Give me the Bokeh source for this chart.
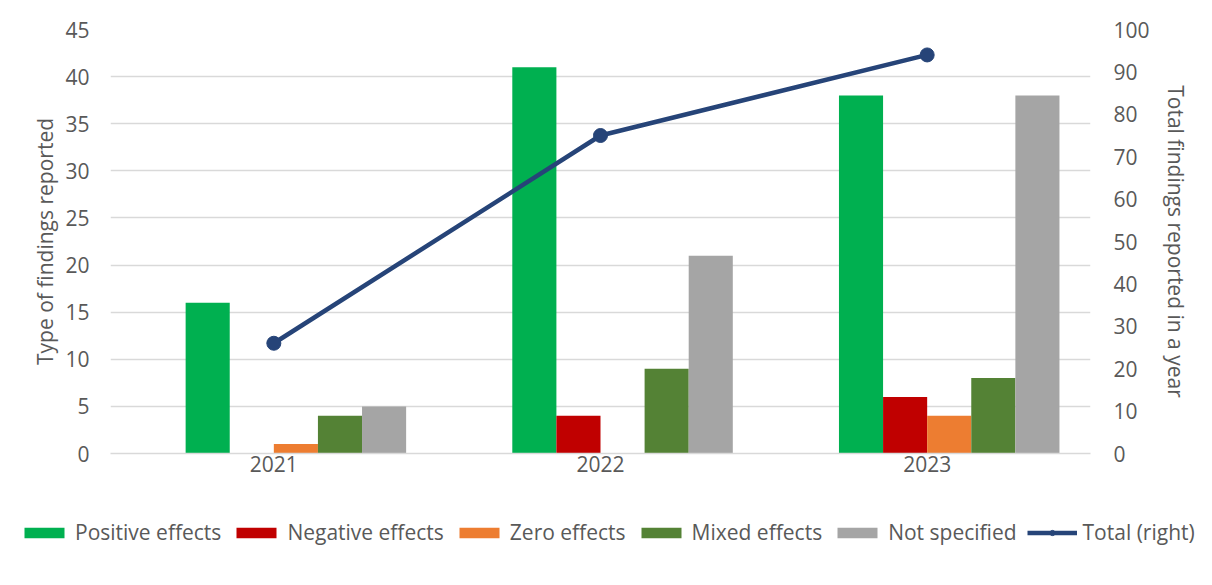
from bokeh.plotting import figure
from bokeh.models import (Range1d, LinearAxis, FixedTicker, Legend, LegendItem,
                          FactorRange, ColumnDataSource)
from bokeh.transform import dodge
from bokeh.embed import file_html
from bokeh.resources import INLINE

years = ["2021", "2022", "2023"]
positive = [16, 41, 38]
negative = [0, 4, 6]
zero = [1, 0, 4]
mixed = [4, 9, 8]
not_specified = [5, 21, 38]
total = [26, 75, 94]

left_ticks = [0, 5, 10, 15, 20, 25, 30, 35, 40, 45]
right_ticks = [0, 10, 20, 30, 40, 50, 60, 70, 80, 90, 100]

FONT = "Open Sans"
TXT = "#595959"
FS = "21px"
LINE_COLOR = "#264478"

src = ColumnDataSource(dict(year=years, positive=positive, negative=negative, zero=zero,
                            mixed=mixed, not_specified=not_specified, total=total))

p = figure(x_range=FactorRange(*years), y_range=Range1d(0, 45),
           width=1196, height=495, output_backend="svg", toolbar_location=None,
           min_border_left=110, min_border_right=106, min_border_top=29, min_border_bottom=42)
p.extra_y_ranges = {"right": Range1d(0, 100)}
p.outline_line_color = None
p.background_fill_color = "white"
p.border_fill_color = "white"

w = 0.135
series = [("positive", "Positive effects", "#00B050", -1.5),
          ("negative", "Negative effects", "#C00000", -0.5),
          ("zero", "Zero effects", "#ED7D31", 0.5),
          ("mixed", "Mixed effects", "#548235", 1.5),
          ("not_specified", "Not specified", "#A5A5A5", 2.5)]

for key, label, color, off in series:
    p.vbar(x=dodge("year", off * w, range=p.x_range), top=key, width=w, source=src,
           fill_color=color, line_color=None)

p.line(x="year", y="total", source=src, y_range_name="right", line_color=LINE_COLOR,
       line_width=4.5)
p.scatter(x="year", y="total", source=src, y_range_name="right", size=14,
          fill_color=LINE_COLOR, line_color=LINE_COLOR)


def style_axis(ax):
    ax.axis_line_color = None
    ax.major_tick_line_color = None
    ax.minor_tick_line_color = None
    ax.major_tick_out = 0
    ax.major_tick_in = 0
    ax.minor_tick_out = 0
    ax.major_label_text_font = FONT
    ax.major_label_text_font_size = FS
    ax.major_label_text_color = TXT
    ax.axis_label_text_font = FONT
    ax.axis_label_text_font_size = FS
    ax.axis_label_text_color = TXT
    ax.axis_label_text_font_style = "normal"


ya = p.yaxis[0]
ya.ticker = FixedTicker(ticks=left_ticks)
ya.axis_label = "Type of findings reported"
style_axis(ya)
ya.major_label_standoff = 21
ya.axis_label_standoff = 3

ra = LinearAxis(y_range_name="right", ticker=FixedTicker(ticks=right_ticks),
                axis_label="Total findings reported in a year")
style_axis(ra)
ra.major_label_standoff = 23
ra.axis_label_standoff = 9
p.add_layout(ra, "right")

xa = p.xaxis[0]
style_axis(xa)
xa.axis_line_color = "#D9D9D9"
xa.axis_line_width = 1.5
xa.major_label_standoff = 2

p.ygrid.ticker = FixedTicker(ticks=left_ticks)
p.ygrid.grid_line_color = "#D9D9D9"
p.ygrid.grid_line_width = 1.5
p.xgrid.grid_line_color = None

# legend strip below the chart (separate root so its frame spans the full width)
lg = figure(width=1210, height=74, output_backend="svg", toolbar_location=None,
            x_range=Range1d(0, 1), y_range=Range1d(0, 1),
            min_border_left=0, min_border_right=0, min_border_top=0, min_border_bottom=0)
lg.axis.visible = False
lg.grid.visible = False
lg.outline_line_color = None
lg.background_fill_color = "white"
lg.border_fill_color = "white"

dummy = ColumnDataSource(dict(x=[-10, -11], y=[-10, -11]))
items = []
for key, label, color, off in series:
    r = lg.vbar(x="x", top="y", width=0.1, source=dummy, fill_color=color, line_color=None)
    items.append(LegendItem(label=label, renderers=[r]))
l1 = lg.line(x="x", y="y", source=dummy, line_color=LINE_COLOR, line_width=4.5)
l2 = lg.scatter(x="x", y="y", source=dummy, size=13, fill_color=LINE_COLOR, line_color=LINE_COLOR)
items.append(LegendItem(label="Total (right)", renderers=[l1, l2]))

legend = Legend(items=items, orientation="horizontal", location=(19, 23),
                label_text_font=FONT, label_text_font_size=FS, label_text_color=TXT,
                glyph_width=50, glyph_height=13, label_standoff=6, spacing=10,
                padding=0, margin=0, border_line_color=None, background_fill_alpha=0)
lg.add_layout(legend, "center")

open("out.html", "w").write(file_html([p, lg], INLINE))
